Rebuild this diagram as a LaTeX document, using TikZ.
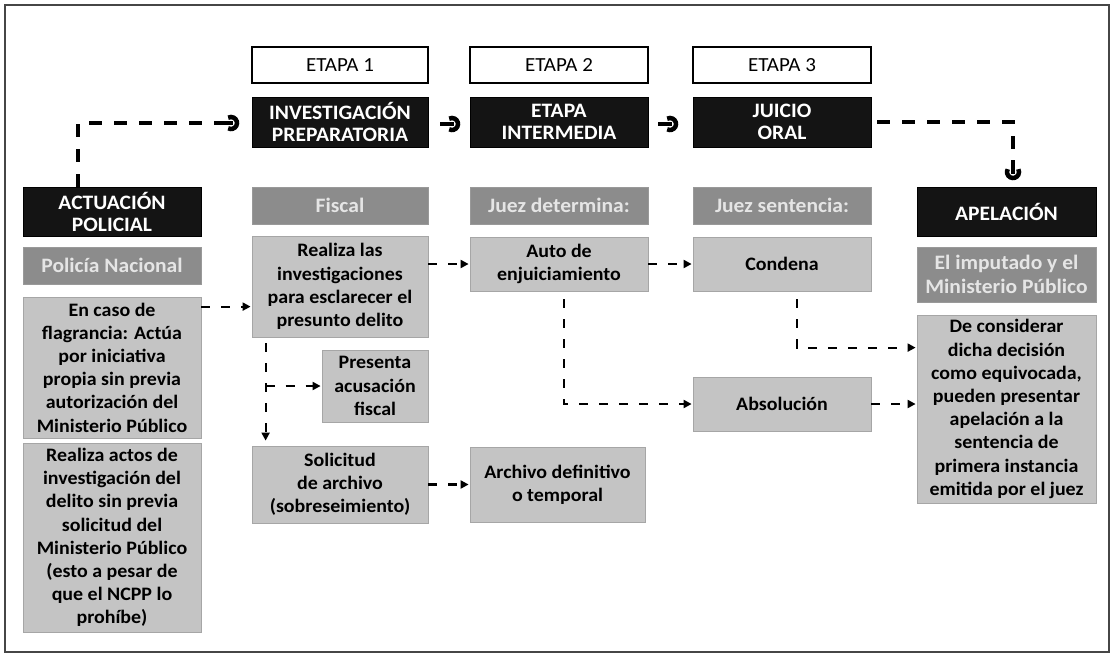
\documentclass[tikz,border=0pt]{standalone}
\usepackage{fontspec}
\setmainfont{Carlito}[FakeStretch=1.05]
\usetikzlibrary{arrows.meta}
\definecolor{boxgray}{RGB}{196,196,196}
\definecolor{labgray}{RGB}{140,140,140}
\definecolor{framegray}{RGB}{70,70,70}
\tikzset{
  sz/.style 2 args={minimum width=#1pt, minimum height=#2pt},
  box/.style={fill=boxgray, draw=gray!70, line width=0.8pt, align=center, inner sep=0pt,
    font=\fontsize{19}{23.2}\selectfont\bfseries},
  stage/.style={draw=black, line width=1.5pt, fill=white, inner sep=0pt,
    font=\fontsize{20}{22}\selectfont},
  phase/.style={fill=black!92, draw=black, align=center, inner sep=0pt, text=white,
    font=\fontsize{20.5}{22}\selectfont\bfseries},
  role/.style={fill=labgray, draw=gray!80, align=center, inner sep=0pt, text=white!90!black,
    font=\fontsize{20.5}{23.5}\selectfont\bfseries},
  link/.style={dash pattern=on 9pt off 11pt, line width=2.2pt, shorten >=1pt,
    -{Triangle[length=8pt,width=8pt]}},
  bond/.style={dash pattern=on 13pt off 12pt, line width=4pt},
}
\newcommand{\cycmark}[2]{%
  \begin{scope}[shift={(#1)}, rotate=#2]
    \draw[line width=4pt] (-12,0) -- (2,0);
    \draw[line width=4.5pt] (118:6) arc[start angle=118, end angle=-118, radius=6];
  \end{scope}}
\begin{document}
\begin{tikzpicture}[x=1pt, y=-1pt]
  \useasboundingbox (0,0) rectangle (1115,656);
  \draw[framegray, line width=2pt] (5,5) rectangle (1109,652);

  % etapas
  \node[stage, sz={176}{36}] (etapa1) at (340,65) {ETAPA 1};
  \node[stage, sz={178}{36}] (etapa2) at (559,65) {ETAPA 2};
  \node[stage, sz={178}{36}] (etapa3) at (782,65) {ETAPA 3};
  \node[phase, sz={176}{50}] (invprep) at (340,122) {INVESTIGACIÓN\\PREPARATORIA};
  \node[phase, sz={178}{50}] (intermedia) at (559,122) {ETAPA\\INTERMEDIA};
  \node[phase, sz={178}{50}] (juicio) at (782,122) {JUICIO\\ORAL};

  % cabeceras
  \node[phase, sz={178}{49}] (actuacion) at (112,211.5) {ACTUACIÓN\\POLICIAL};
  \node[phase, sz={179}{49}] (apelacion) at (1006.5,211.5) {APELACIÓN};
  \node[role, sz={176}{37}] (fiscal) at (340,205.5) {Fiscal};
  \node[role, sz={178}{37}] (juezdet) at (559,205.5) {Juez determina:};
  \node[role, sz={178}{37}] (juezsent) at (782,205.5) {Juez sentencia:};
  \node[role, sz={178}{37}] (policia) at (112,265.5) {Policía Nacional};
  \node[role, sz={179}{55}] (imputado) at (1006.5,274.5) {El imputado y el\\Ministerio Público};

  % contenido
  \node[box, sz={178}{141}] (flagrancia) at (112,367.5) {En caso de\\flagrancia: Actúa\\por iniciativa\\propia sin previa\\autorización del\\Ministerio Público};
  \node[box, sz={178}{189}] (actos) at (112,537.5) {Realiza actos de\\investigación del\\delito sin previa\\solicitud del\\Ministerio Público\\(esto a pesar de\\que el NCPP lo\\prohíbe)};
  \node[box, sz={176}{101}] (investigaciones) at (340,286.5) {Realiza las\\investigaciones\\para esclarecer el\\presunto delito};
  \node[box, sz={106}{72}] (presenta) at (375,386) {Presenta\\acusación\\fiscal};
  \node[box, sz={176}{77}] (solicitud) at (340,484.5) {Solicitud\\de archivo\\(sobreseimiento)};
  \node[box, sz={178}{54}] (auto) at (559,264) {Auto de\\enjuiciamiento};
  \node[box, sz={175}{75}] (archivo) at (557.5,484.5) {Archivo definitivo\\o temporal};
  \node[box, sz={178}{54}] (condena) at (782,264) {Condena};
  \node[box, sz={178}{54}] (absolucion) at (782,404) {Absolución};
  \node[box, sz={179}{188}] (considerar) at (1006.5,409) {De considerar\\dicha decisión\\como equivocada,\\pueden presentar\\apelación a la\\sentencia de\\primera instancia\\emitida por el juez};

  % flechas entre etapas
  \coordinate (s1) at (231,123);
  \coordinate (s2) at (452,124);
  \coordinate (s3) at (670,124);
  \coordinate (s4) at (1013,172);
  \cycmark{s1}{0}
  \cycmark{s2}{0}
  \cycmark{s3}{0}
  \cycmark{s4}{-90}
  \coordinate (p1) at ([xshift=55pt]actuacion.north west);
  \draw[bond] (p1) |- ([xshift=-12pt]s1);
  \draw[bond] ([xshift=6pt]juicio.east) -| ([yshift=12pt]s4);

  % conexiones
  \coordinate (f1) at ([yshift=-10pt]flagrancia.north east);
  \draw[link] (f1) -- (f1 -| investigaciones.west);
  \draw[link] (investigaciones.east |- auto.west) -- (auto.west);
  \draw[link] (auto.east) -- (condena.west);
  \coordinate (v1) at ([xshift=14pt]investigaciones.south west);
  \draw[link, shorten >=5pt] ([yshift=-6pt]v1) -- (v1 |- solicitud.north);
  \draw[link] (v1 |- presenta.west) -- (presenta.west);
  \draw[link] (solicitud.east) -- (archivo.west);
  \coordinate (v2) at ([xshift=94pt]auto.south west);
  \draw[link] ([yshift=-8pt]v2) |- (absolucion.west);
  \coordinate (v3) at ([xshift=104pt]condena.south west);
  \draw[link] ([yshift=-8pt]v3) |- ([yshift=-33pt]considerar.north west);
  \draw[link] (absolucion.east) -- (absolucion.east -| considerar.west);
\end{tikzpicture}
\end{document}
